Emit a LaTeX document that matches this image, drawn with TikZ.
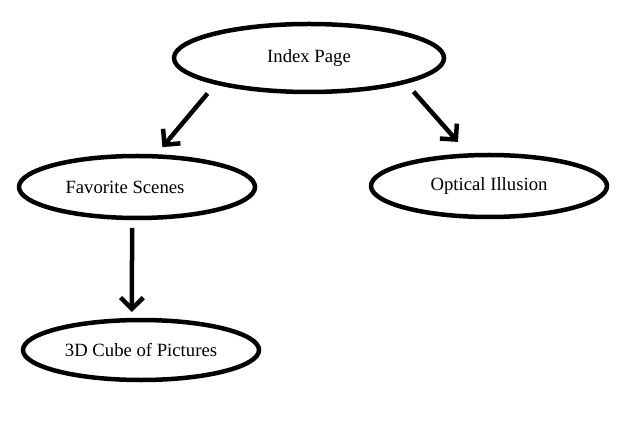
\documentclass[tikz,border=0pt]{standalone}
\usepackage{fontspec}
\setmainfont{Liberation Serif}
\usetikzlibrary{shapes.geometric,arrows.meta}
\begin{document}
\begin{tikzpicture}[x=1pt,y=-1pt,font=\fontsize{18.7}{22}\selectfont,
oval/.style={draw,ellipse,line width=4.5pt,inner sep=0pt,outer sep=0pt},
arr/.style={line width=4.5pt,-{Straight Barb[angle=90:16pt]}}]
\useasboundingbox(0,0)rectangle(644,443);
\node[oval,minimum width=270,minimum height=68](index)at(309,58){Index Page};
\node[oval,minimum width=236,minimum height=62,label={[xshift=-12pt]center:Favorite Scenes}](fav)at(137,187){};
\node[oval,minimum width=236,minimum height=62](opt)at(489,186){Optical Illusion};
\node[oval,minimum width=236,minimum height=60](cube)at(141,350){3D Cube of Pictures};
\draw[arr,shorten <=14pt,shorten >=12pt](index.195)--(fav.60);
\draw[arr,shorten <=13pt,shorten >=18pt](index.346)--(opt.122);
\draw[arr,shorten <=10pt,shorten >=8pt](fav.261)--(cube.107);
\end{tikzpicture}
\end{document}
